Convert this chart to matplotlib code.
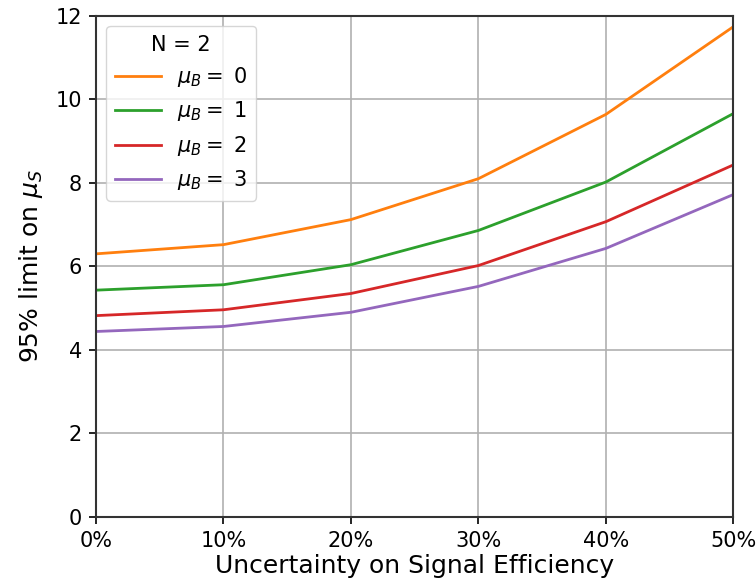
import matplotlib
matplotlib.use('Agg')
import matplotlib.pyplot as plt
from matplotlib.ticker import PercentFormatter

# Uncertainty on signal efficiency (%) and the resulting 95% limits
uncertainty = [0, 10, 20, 30, 40, 50]
limit_b0 = [6.30, 6.52, 7.12, 8.10, 9.64, 11.74]
limit_b1 = [5.43, 5.56, 6.04, 6.86, 8.02, 9.66]
limit_b2 = [4.82, 4.96, 5.35, 6.02, 7.07, 8.43]
limit_b3 = [4.44, 4.56, 4.90, 5.52, 6.43, 7.72]
mu_b = [0, 1, 2, 3]
colors = ['tab:orange', 'tab:green', 'tab:red', 'tab:purple']

plt.rcParams['font.size'] = 15
fig = plt.figure(figsize=(7.56, 5.88), dpi=100)
ax = fig.add_axes([0.127, 0.121, 0.843, 0.852])

for b, lim, c in zip(mu_b, [limit_b0, limit_b1, limit_b2, limit_b3], colors):
    ax.plot(uncertainty, lim, color=c, lw=2, label=r'$\mu_B = $ %d' % b)

ax.set_xlim(0, 50)
ax.set_ylim(0, 12)
ax.set_xticks(uncertainty)
ax.xaxis.set_major_formatter(PercentFormatter(decimals=0))
ax.set_yticks(range(0, 13, 2))
ax.tick_params(labelsize=15, length=5, width=1.2, pad=5)
ax.grid(True, color='#b0b0b0', lw=1.2)
for s in ax.spines.values():
    s.set_color('#333333')
    s.set_linewidth(1.5)
ax.set_xlabel('Uncertainty on Signal Efficiency', fontsize=18, labelpad=2)
ax.set_ylabel(r'95% limit on $\mu_S$', fontsize=18, labelpad=8)
ax.legend(title='N = 2', loc='upper left', handlelength=2.2, fontsize=15, title_fontsize=15)

fig.savefig('out.png', dpi=100)
